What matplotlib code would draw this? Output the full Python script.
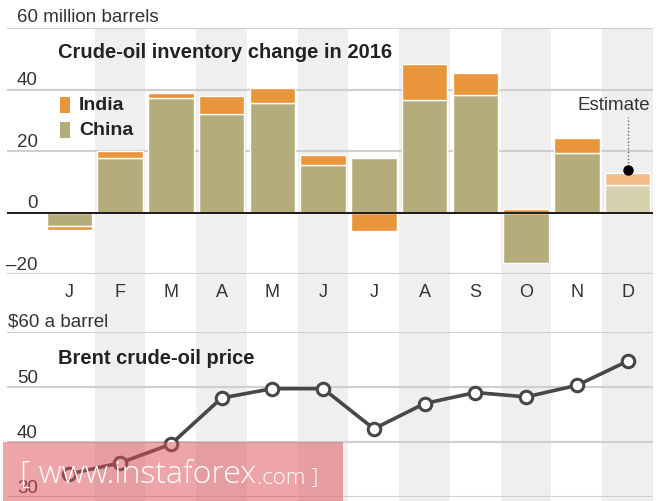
import matplotlib
matplotlib.use("Agg")
import matplotlib.pyplot as plt
from matplotlib.patches import Rectangle
from matplotlib.transforms import offset_copy

# ---------------- data ----------------
months = ['J', 'F', 'M', 'A', 'M', 'J', 'J', 'A', 'S', 'O', 'N', 'D']
china = [-4.3, 17.8, 37.1, 32.1, 35.5, 15.5, 17.7, 36.5, 38.1, -16.4, 19.5, 9.1]
india = [-1.4, 2.1, 1.7, 5.7, 4.9, 3.3, -6.1, 11.9, 7.3, 1.1, 4.7, 3.7]
estimate_flags = [False] * 11 + [True]
brent = [34.2, 36.2, 39.6, 48.0, 49.7, 49.7, 42.4, 47.0, 49.0, 48.2, 50.3, 54.7]
top_ticks = [40, 20, 0, -20]
top_tick_labels = ['40', '20', '0', '\u201320']
bot_ticks = [50, 40, 30]
bot_tick_labels = ['50', '40', '30']

FONT = ['Liberation Sans', 'DejaVu Sans']
plt.rcParams['font.family'] = FONT

W, H = 665, 502
fig = plt.figure(figsize=(W / 100, H / 100), dpi=100)
fig.patch.set_facecolor('white')

XL = (-1.229, 11.5)
LEFT_PX, RIGHT_PX = 7, 653


def rect(top_px, bot_px):
    return [LEFT_PX / W, 1 - bot_px / H, (RIGHT_PX - LEFT_PX) / W, (bot_px - top_px) / H]


C_INDIA, C_CHINA = '#E8953B', '#B4AD7B'
C_INDIA_E, C_CHINA_E = '#F3BF86', '#D6D1AF'
C_GRID = '#CFCFCF'
C_BAND = '#EFEFEF'
C_TXT = '#222222'
C_LINE = '#474747'

x = list(range(len(months)))

# background bands
bg = fig.add_axes(rect(29, 502), zorder=0)
bg.set_xlim(XL)
bg.set_ylim(0, 1)
bg.axis('off')
for i in x:
    if i % 2 == 1:
        bg.axvspan(i - 0.5, i + 0.5, color=C_BAND, lw=0)

# ---------------- top chart ----------------
ax1 = fig.add_axes(rect(29, 275), zorder=1)
ax1.set_xlim(XL)
ax1.set_ylim(-20, 60)
ax1.axis('off')
ax1.patch.set_alpha(0)
for v in [60, 40, 20, -20]:
    ax1.axhline(v, color=C_GRID, lw=1.5, zorder=1)
ax1.axhline(0, color='#1a1a1a', lw=1.4, zorder=5)

cc = [C_CHINA_E if e else C_CHINA for e in estimate_flags]
ic = [C_INDIA_E if e else C_INDIA for e in estimate_flags]
ibottom = [c if (c >= 0) == (i >= 0) else 0 for c, i in zip(china, india)]
ax1.bar(x, china, width=0.9, color=cc, edgecolor='white', linewidth=1.0, zorder=3)
ax1.bar(x, india, bottom=ibottom, width=0.9, color=ic, edgecolor='white', linewidth=1.0, zorder=3)

tick_x = -0.5 - 6 / 50.75
for v, lab in zip(top_ticks, top_tick_labels):
    ax1.text(tick_x, v, lab, ha='right', va='baseline', fontsize=13.5, color='#333333',
             transform=offset_copy(ax1.transData, fig=fig, x=0, y=5, units='dots'))
ax1.text(-1.229 + 10 / 50.75, 60, '60 million barrels', ha='left', va='baseline', fontsize=13.5,
         color='#333333', transform=offset_copy(ax1.transData, fig=fig, x=0, y=7, units='dots'))

ax1.text(-0.5 + 14 / 50.75, 52.4, 'Crude-oil inventory change in 2016', ha='left', va='center',
         fontsize=14.5, fontweight='bold', color=C_TXT)

# legend
leg_items = [('India', C_INDIA, 106), ('China', C_CHINA, 131)]
for lab, col, ypx in leg_items:
    yv = (213.5 - ypx) / 3.075
    ax1.add_patch(Rectangle((-0.5 + 16 / 50.75, yv - 8 / 3.075), 10 / 50.75, 16 / 3.075,
                            color=col, lw=0, zorder=4))
    ax1.text(-0.5 + 35 / 50.75, yv, lab, ha='left', va='center', fontsize=14,
             fontweight='bold', color=C_TXT)

# estimate annotation
dot_v = india[11] + china[11] + 1.0
ax1.plot([11, 11], [dot_v, 31.0], color='#666666', lw=1.0, ls=(0, (1, 1.5)), zorder=4)
ax1.plot([11], [dot_v], 'o', color='black', ms=6.5, zorder=6)
ax1.text(11.5 - 3 / 50.75, 35.0, 'Estimate', ha='right', va='center', fontsize=13.5, color='#333333')

# month labels
for i, m in zip(x, months):
    ax1.text(i, -20 - 18 / 3.075, m, ha='center', va='center', fontsize=13, color='#333333')

# ---------------- bottom chart ----------------
ax2 = fig.add_axes(rect(333, 498), zorder=1)
ax2.set_xlim(XL)
ax2.set_ylim(30, 60)
ax2.axis('off')
ax2.patch.set_alpha(0)
for v in [60, 50, 40, 30]:
    ax2.axhline(v, color=C_GRID, lw=1.5, zorder=1)
for v, lab in zip(bot_ticks, bot_tick_labels):
    ax2.text(tick_x, v, lab, ha='right', va='baseline', fontsize=13.5, color='#333333',
             transform=offset_copy(ax2.transData, fig=fig, x=0, y=5, units='dots'))
ax2.text(-1.229 + 1 / 50.75, 60, '$60 a barrel', ha='left', va='baseline', fontsize=13.5,
         color='#333333', transform=offset_copy(ax2.transData, fig=fig, x=0, y=6, units='dots'))
ax2.text(-0.5 + 14 / 50.75, 55.3, 'Brent crude-oil price', ha='left', va='center',
         fontsize=14.5, fontweight='bold', color=C_TXT)
ax2.plot(x, brent, color=C_LINE, lw=2.6, marker='o', ms=9, mfc='white', mec=C_LINE,
         mew=2.2, zorder=4, clip_on=False)

# ---------------- watermark ----------------
wm = Rectangle((3 / W, 0), 340 / W, (502 - 443) / H, transform=fig.transFigure,
               facecolor=(0.87, 0.30, 0.33), alpha=0.5, lw=0, zorder=10)
fig.patches.append(wm)
t1 = fig.text(20 / W, 1 - 483 / H, '[ www.instaforex', ha='left', va='baseline', fontsize=23,
              color='white', family=['Open Sans', 'DejaVu Sans'], fontweight='light', zorder=11)
fig.canvas.draw()
bb = t1.get_window_extent()
fig.text(bb.x1 / W + 1 / W, 1 - 483 / H, '.com ]', ha='left', va='baseline', fontsize=16,
         color='white', family=['Open Sans', 'DejaVu Sans'], fontweight='light', zorder=11)

fig.savefig('out.png', dpi=100)
